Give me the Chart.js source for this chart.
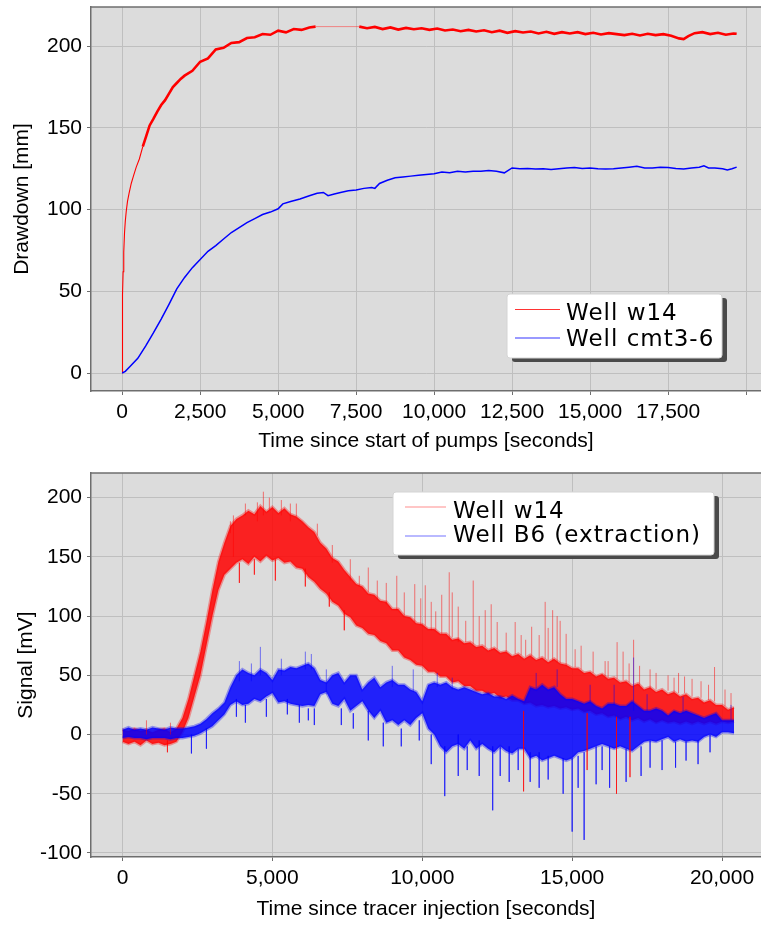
<!DOCTYPE html>
<html>
<head>
<meta charset="utf-8">
<script src="https://cdn.jsdelivr.net/npm/chart.js@4.4.1/dist/chart.umd.min.js"></script>
<style>
  body { margin: 0; background: #fff; }
  canvas { display: block; }
</style>
</head>
<body>
<canvas id="drawdownChart" width="761" height="460"></canvas>
<canvas id="tracerChart" width="761" height="465"></canvas>
<script>
// ---- top chart: drawdown after pumps start ----
const pumpTimeTicks = [0, 2500, 5000, 7500, 10000, 12500, 15000, 17500, 20000];
const drawdownTicks = [0, 50, 100, 150, 200];

const w14PumpTimes = [0, 5, 15, 30, 50, 75, 100, 130, 170, 220, 290, 360, 450, 550, 660, 770, 880, 1000, 1125, 1250,
  1375, 1500, 1625, 1750, 1875, 2000, 2250, 2500, 2750, 3000, 3250, 3500, 3750, 4000, 4250, 4500, 4750, 5000, 5250, 5500,
  5750, 6000, 6200, 7600, 7850, 8100, 8350, 8600, 8850, 9100, 9350, 9600, 9850, 10100, 10350, 10600, 10850, 11100, 11350, 11600,
  11850, 12100, 12350, 12600, 12850, 13100, 13350, 13600, 13850, 14100, 14350, 14600, 14850, 15100, 15350, 15600, 15850, 16100, 16350, 16600,
  16850, 17100, 17350, 17600, 17850, 18000, 18150, 18350, 18600, 18850, 19100, 19350, 19600, 19700];
const w14Drawdown = [0, 30, 48, 62, 74, 86, 93, 99, 105, 110, 116, 120.5, 126, 131, 138.5, 145, 151.5, 155.5, 160, 164,
  167, 171, 175, 177.5, 180, 182, 185, 190.5, 192.5, 198, 199, 202, 202.5, 205, 205.5, 207.5, 207, 209.5, 208.5, 210.5,
  210, 211.5, 212, 212, 211, 211.8, 210.5, 211.5, 210.2, 211.2, 210.4, 211, 210, 210.8, 209.6, 210.2, 209.2, 210, 209, 209.8,
  208.6, 209.5, 208.2, 209.2, 208.4, 209, 207.8, 208.8, 207.6, 208.6, 207.8, 208.6, 207.4, 208.2, 207.2, 208, 207.4, 206.8, 207.6, 206.6,
  207.6, 206.8, 207.4, 206.4, 204.8, 204.4, 206.2, 208, 208.6, 207.4, 208.2, 207, 207.8, 207.6];

const cmtPumpTimes = [0, 100, 250, 500, 750, 1000, 1250, 1500, 1750, 2000, 2250, 2500, 2750, 3000, 3250, 3500, 3750, 4000, 4250, 4500,
  4750, 5000, 5150, 5400, 5700, 6000, 6250, 6450, 6600, 6800, 7000, 7250, 7500, 7750, 8000, 8100, 8250, 8500, 8750, 9000,
  9250, 9500, 9750, 10000, 10250, 10500, 10750, 11000, 11250, 11500, 11750, 12000, 12250, 12500, 12750, 13000, 13250, 13500, 13750, 14000,
  14250, 14500, 14750, 15000, 15250, 15500, 15750, 16000, 16250, 16500, 16750, 17000, 17250, 17500, 17750, 18000, 18250, 18500, 18650, 18800,
  19000, 19250, 19400, 19550, 19700];
const cmtDrawdown = [0, 1, 4, 9, 16.5, 24.5, 33, 42, 51.5, 58.5, 64.5, 69.5, 74.5, 78, 82, 86, 89, 92, 94.5, 97,
  98.5, 100.5, 103.5, 105, 106.5, 108.5, 110, 110.5, 108.5, 109.5, 110.5, 111.5, 112, 113, 113.5, 113, 116, 118, 119.5, 120,
  120.5, 121, 121.5, 122, 123, 122.5, 123.5, 123, 123.5, 123.5, 124, 123.5, 122.5, 125.5, 125, 125.2, 124.8, 125, 124.5, 125,
  125.5, 125.8, 125.2, 125.5, 125, 124.8, 125, 125.5, 126, 126.5, 125.5, 125.5, 126, 125.8, 125.2, 124.8, 125.5, 126, 126.8, 125.5,
  125.5, 125, 124.3, 125, 126];

// ---- bottom chart: tracer signal ----
const tracerTimeTicks = [0, 5000, 10000, 15000, 20000];
const signalTicks = [-100, -50, 0, 50, 100, 150, 200];

// upper / lower edge of the dense noise band, one value every TRACER_STEP seconds
const TRACER_STEP = 200;
const w14SignalHi = [4, 3, 5, 3, 4, 2, 4, 5, 2, 5,
  14, 30, 50, 70, 95, 122, 146, 162, 176, 182,
  185, 189, 186, 193, 188, 192, 187, 191, 186, 184,
  180, 175, 171, 162, 157, 149, 146, 139, 133, 127,
  125, 119, 118, 113, 112, 106, 106, 100, 99, 94,
  93, 89, 89, 85, 85, 80, 81, 77, 78, 74,
  75, 71, 73, 69, 70, 66, 68, 64, 67, 63,
  65, 61, 64, 60, 59, 56, 56, 52, 53, 49,
  51, 47, 48, 44, 45, 41, 43, 38, 40, 36,
  38, 34, 36, 32, 34, 30, 31, 27, 29, 25,
  25, 21, 23];
const w14SignalLo = [-6, -8, -6, -9, -5, -8, -7, -9, -8, -6,
  2, 14, 32, 50, 75, 100, 122, 135, 140, 145,
  148, 144, 150, 146, 151, 147, 149, 145, 146, 141,
  140, 133, 129, 123, 119, 112, 109, 102, 99, 92,
  90, 85, 84, 79, 77, 71, 71, 65, 63, 59,
  58, 53, 53, 49, 49, 44, 45, 41, 41, 37,
  37, 34, 35, 31, 32, 29, 29, 26, 27, 24,
  25, 23, 24, 22, 23, 21, 22, 19, 20, 17,
  18, 15, 16, 13, 15, 12, 14, 11, 13, 10,
  12, 10, 11, 9, 11, 9, 11, 9, 11, 9,
  11, 10, 11];
const b6SignalHi = [4, 6, 4, 5, 4, 6, 5, 4, 6, 5,
  5, 6, 7, 9, 13, 18, 22, 27, 40, 50,
  55, 52, 50, 55, 52, 46, 55, 54, 57, 56,
  58, 60, 56, 46, 44, 50, 52, 44, 50, 50,
  38, 44, 48, 40, 44, 46, 42, 42, 38, 36,
  28, 42, 44, 42, 44, 40, 38, 40, 38, 36,
  34, 35, 32, 32, 30, 33, 30, 28, 40, 38,
  42, 38, 40, 34, 30, 30, 28, 26, 28, 24,
  22, 26, 26, 24, 24, 28, 24, 20, 20, 22,
  20, 16, 20, 18, 20, 18, 16, 14, 16, 18,
  12, 12, 12];
const b6SignalLo = [-3, -2, -3, -3, -4, -3, -3, -3, -4, -3,
  -3, -2, -1, 1, 4, 7, 12, 17, 25, 28,
  25, 26, 30, 28, 32, 35, 27, 28, 26, 25,
  24, 25, 24, 34, 36, 26, 24, 30, 20, 24,
  28, 20, 14, 20, 10, 12, 8, 12, 8, 14,
  18, 5, 0, -10, -15, -10, -8, -12, -5, -12,
  -8, -12, -15, -10, -14, -16, -12, -12, -20, -18,
  -22, -20, -18, -20, -22, -20, -15, -14, -12, -10,
  -8, -10, -12, -10, -12, -14, -10, -6, -5, -6,
  -4, -2, -6, -4, -6, -5, -6, -2, 0, -2,
  2, 2, 1];

// isolated spikes sticking out of the band: time, start value, end value
const w14SpikeTimes = [800, 1500, 1600, 3600, 3700, 3900, 4100, 4400, 4500, 4700, 4900, 5100, 5300, 5600, 5800, 6100,
  6500, 6900, 7000, 7400, 7600, 7900, 8200, 8500, 8800, 9150, 9400, 9750, 9950, 10100, 10300, 10450,
  10650, 10900, 11000, 11200, 11450, 11700, 11900, 12100, 12300, 12500, 12800, 13100, 13300, 13380, 13450, 13650,
  13900, 14100, 14200, 14350, 14500, 14600, 14800, 15100, 15300, 15500, 15700, 16100, 16200, 16480, 16500, 16700,
  16900, 16930, 17050, 17250, 17600, 17800, 18200, 18400, 18550, 18750, 19000, 19300, 19550, 19750, 20100, 20300];
const w14SpikeFrom = [0, -5, 0, 170, 150, 145, 185, 148, 180, 185, 190, 148, 185, 180, 184, 140,
  168, 120, 145, 105, 130, 125, 120, 114, 110, 105, 100, 95, 93, 92, 88, 88,
  85, 80, 82, 78, 78, 76, 75, 74, 72, 72, 70, 68, 67, 20, 66, 66,
  65, 64, 63, 62, 61, 60, 58, 57, 55, 18, 52, 49, 48, 15, 47, 46,
  44, 15, 42, 41, 39, 38, 37, 36, 35, 35, 32, 31, 29, 28, 24, 22];
const w14SpikeTo = [12, -15, 10, 180, 185, 128, 195, 135, 196, 205, 200, 130, 198, 195, 195, 125,
  178, 108, 160, 88, 148, 134, 141, 130, 128, 134, 120, 127, 115, 126, 112, 104,
  118, 137, 120, 108, 96, 130, 100, 105, 110, 95, 86, 95, 84, -48, 80, 91,
  84, 112, 90, 105, 100, 96, 85, 72, 75, -30, 70, 62, 62, -50, 78, 70,
  60, -36, 80, 58, 55, 52, 50, 48, 52, 49, 47, 45, 42, 57, 38, 35];
const b6SpikeTimes = [2300, 2800, 3800, 3900, 4100, 4300, 4600, 4800, 5300, 5500, 5900, 6100, 6200, 6300, 6400, 6800,
  7300, 7700, 8200, 8700, 9000, 9300, 9700, 9900, 10300, 10500, 10750, 11000, 11200, 11500, 11900, 12350,
  12600, 12900, 13200, 13600, 13800, 13900, 14200, 14500, 14700, 15000, 15200, 15400, 15600, 15800, 16000, 16250,
  16400, 16800, 17050, 17300, 17500, 17600, 18000, 18450, 18700, 18800, 19200, 19600, 20300];
const b6SpikeFrom = [0, 5, 30, 45, 25, 45, 50, 30, 50, 30, 25, 55, 22, 55, 22, 34,
  22, 18, 20, 10, 40, 5, 36, 12, 0, 40, -10, 38, 0, -10, -5, -10,
  -10, -10, -12, -15, 38, -15, -18, 40, -20, -20, -18, -15, 28, -10, -10, -10,
  25, -12, 20, -10, 20, -5, -5, -6, 18, -6, -5, 0, 12];
const b6SpikeTo = [-16, -12, 15, 62, 10, 60, 74, 15, 64, 17, 10, 70, 12, 68, 8, 55,
  8, 5, -5, -10, 58, -10, 55, -5, -25, 52, -52, 48, -35, -30, -35, -64,
  -35, -40, -30, -40, 52, -45, -38, 55, -50, -82, -45, -89, 42, -42, -30, -45,
  42, -40, 65, -35, 34, -28, -30, -28, 32, -22, -25, -15, 25];

const PLOT_BG = '#dcdcdc';
const GRID = '#bfbfbf';
const AXIS = '#6e6e6e';

Chart.defaults.font.family = "'Liberation Sans', Arial, sans-serif";
Chart.defaults.font.size = 21;
Chart.defaults.color = '#000';

function toPoints(times, values) {
  return times.map((t, i) => ({ x: t, y: values[i] }));
}

function stepPoints(values) {
  return values.map((v, i) => ({ x: i * TRACER_STEP, y: v }));
}

// each spike is its own short vertical segment, separated by gaps
function spikePoints(times, from, to) {
  const pts = [];
  times.forEach((t, i) => {
    pts.push({ x: t, y: from[i] }, { x: t, y: to[i] }, { x: t, y: null });
  });
  return pts;
}

const plotFrame = {
  id: 'plotFrame',
  beforeDraw(chart) {
    const { ctx, chartArea: a } = chart;
    ctx.save();
    ctx.fillStyle = PLOT_BG;
    ctx.fillRect(a.left, a.top, a.right - a.left, a.bottom - a.top);
    ctx.restore();
  },
  afterDatasetsDraw(chart) {
    const { ctx, chartArea: a } = chart;
    ctx.save();
    ctx.strokeStyle = AXIS;
    ctx.lineWidth = 1.5;
    ctx.beginPath();
    ctx.moveTo(a.left, a.top);
    ctx.lineTo(a.right, a.top);
    ctx.stroke();
    ctx.restore();
  }
};

// boxed legend with a drop shadow
const boxLegend = {
  id: 'boxLegend',
  afterDraw(chart, args, o) {
    const ctx = chart.ctx;
    ctx.save();
    ctx.fillStyle = '#4a4a4a';
    ctx.beginPath();
    ctx.roundRect(o.left + 5, o.top + 4, o.width, o.height, 3);
    ctx.fill();
    ctx.fillStyle = '#fff';
    ctx.strokeStyle = '#d4d4d4';
    ctx.lineWidth = 1;
    ctx.beginPath();
    ctx.roundRect(o.left, o.top, o.width, o.height, 3);
    ctx.fill();
    ctx.stroke();
    ctx.font = "23px 'DejaVu Sans', Verdana, sans-serif";
    ctx.letterSpacing = '1px';
    ctx.textBaseline = 'alphabetic';
    chart.data.datasets.filter(ds => ds.inLegend).forEach((ds, i) => {
      ctx.strokeStyle = o.colors[i];
      ctx.lineWidth = 1.2;
      ctx.beginPath();
      ctx.moveTo(o.lineFrom, o.lineY[i]);
      ctx.lineTo(o.lineTo, o.lineY[i]);
      ctx.stroke();
      ctx.fillStyle = '#000';
      ctx.fillText(ds.label, o.textX, o.baseline[i]);
    });
    ctx.restore();
  }
};

function axisOptions(min, max, tickValues, title, callback) {
  return {
    type: 'linear', min: min, max: max, offset: false,
    afterBuildTicks: s => { s.ticks = tickValues.map(v => ({ value: v })); },
    ticks: { autoSkip: false, maxRotation: 0, padding: 5, callback: callback },
    grid: { color: GRID, tickColor: AXIS, tickLength: 4, lineWidth: 1, offset: false },
    border: { color: AXIS, width: 1.5 },
    title: { display: true, text: title }
  };
}

const fmt = v => v.toLocaleString('en-US');

// top chart
const topX = axisOptions(-1000, 20480, pumpTimeTicks, 'Time since start of pumps [seconds]', v => (v === 20000 ? '' : fmt(v)));
topX.title.padding = { top: 0, bottom: 6 };
topX.afterFit = s => { s.height = 69; s.paddingLeft = 0; s.paddingRight = 0; };
const topY = axisOptions(-11, 224, drawdownTicks, 'Drawdown [mm]', fmt);
topY.title.padding = { top: 10, bottom: 0 };
topY.afterFit = s => { s.width = 91; s.paddingTop = 0; s.paddingBottom = 0; };

new Chart(document.getElementById('drawdownChart'), {
  type: 'line',
  data: {
    datasets: [
      {
        label: 'Well w14', inLegend: true, data: toPoints(w14PumpTimes, w14Drawdown), order: 1,
        borderColor: '#ff0000', borderWidth: 2.6, pointRadius: 0,
        segment: {
          borderWidth: c => (c.p1.parsed.x - c.p0.parsed.x > 1000 ? 1 : (c.p1.parsed.x < 700 ? 1.1 : undefined)),
          borderColor: c => (c.p1.parsed.x - c.p0.parsed.x > 1000 ? 'rgba(255,60,60,0.55)' : undefined)
        }
      },
      {
        label: 'Well cmt3-6', inLegend: true, data: toPoints(cmtPumpTimes, cmtDrawdown), order: 0,
        borderColor: '#0000ff', borderWidth: 1.5, pointRadius: 0
      }
    ]
  },
  options: {
    responsive: false, animation: false, events: [],
    layout: { padding: { top: 7, right: 0, bottom: 0, left: 0 } },
    plugins: {
      legend: { display: false }, tooltip: { enabled: false },
      boxLegend: {
        left: 507, top: 294, width: 215, height: 64,
        lineFrom: 515, lineTo: 560, lineY: [309.5, 338], textX: 566, baseline: [320, 345.5],
        colors: ['rgba(255,0,0,0.8)', 'rgba(0,0,255,0.8)']
      }
    },
    scales: { x: topX, y: topY }
  },
  plugins: [plotFrame, boxLegend]
});

// bottom chart
const botX = axisOptions(-1050, 21300, tracerTimeTicks, 'Time since tracer injection [seconds]', fmt);
botX.title.padding = { top: 0, bottom: 3 };
botX.afterFit = s => { s.height = 68; s.paddingLeft = 0; s.paddingRight = 0; };
const botY = axisOptions(-103.4, 220.8, signalTicks, 'Signal [mV]', fmt);
botY.title.padding = { top: 14, bottom: 0 };
botY.afterFit = s => { s.width = 91; s.paddingTop = 0; s.paddingBottom = 0; };

new Chart(document.getElementById('tracerChart'), {
  type: 'line',
  data: {
    datasets: [
      {
        label: 'Well w14', inLegend: true, data: stepPoints(w14SignalHi), order: 4, fill: '+1',
        backgroundColor: 'rgba(255,0,0,0.85)', borderColor: 'rgba(255,0,0,0.35)', borderWidth: 3, pointRadius: 0
      },
      {
        label: 'w14 low', data: stepPoints(w14SignalLo), order: 4,
        borderColor: 'rgba(255,0,0,0.35)', borderWidth: 3, pointRadius: 0
      },
      {
        label: 'Well B6 (extraction)', inLegend: true, data: stepPoints(b6SignalHi), order: 3, fill: '+1',
        backgroundColor: 'rgba(0,0,255,0.85)', borderColor: 'rgba(0,0,255,0.35)', borderWidth: 3, pointRadius: 0
      },
      {
        label: 'B6 low', data: stepPoints(b6SignalLo), order: 3,
        borderColor: 'rgba(0,0,255,0.35)', borderWidth: 3, pointRadius: 0
      },
      {
        label: 'w14 spikes', data: spikePoints(w14SpikeTimes, w14SpikeFrom, w14SpikeTo), order: 2,
        borderColor: 'rgba(255,0,0,0.5)', borderWidth: 1, pointRadius: 0, spanGaps: false
      },
      {
        label: 'B6 spikes', data: spikePoints(b6SpikeTimes, b6SpikeFrom, b6SpikeTo), order: 1,
        borderColor: 'rgba(0,0,255,0.5)', borderWidth: 1, pointRadius: 0, spanGaps: false
      }
    ]
  },
  options: {
    responsive: false, animation: false, events: [],
    layout: { padding: { top: 13, right: 0, bottom: 0, left: 0 } },
    plugins: {
      legend: { display: false }, tooltip: { enabled: false },
      boxLegend: {
        left: 393, top: 32, width: 321, height: 63,
        lineFrom: 405, lineTo: 446, lineY: [47, 76], textX: 453, baseline: [58, 82],
        colors: ['rgba(255,0,0,0.45)', 'rgba(0,0,255,0.55)']
      }
    },
    scales: { x: botX, y: botY }
  },
  plugins: [plotFrame, boxLegend]
});
</script>
</body>
</html>
